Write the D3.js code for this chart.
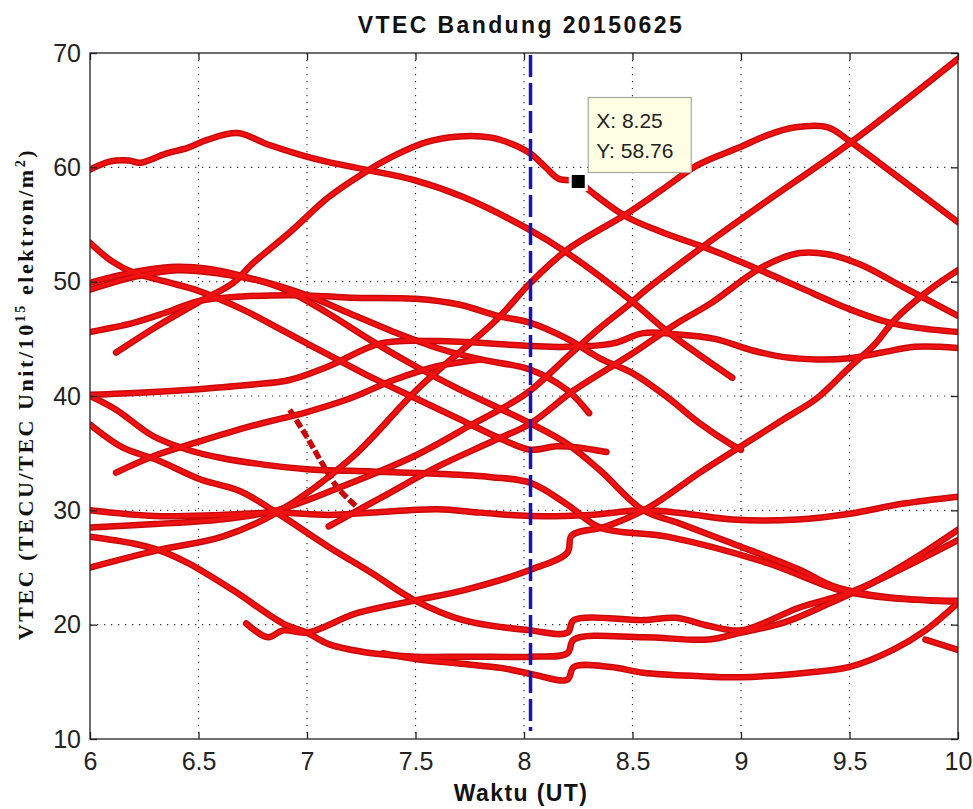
<!DOCTYPE html>
<html>
<head>
<meta charset="utf-8">
<script src="https://cdn.jsdelivr.net/npm/d3@7/dist/d3.min.js"></script>
<style>
  body { margin: 0; background: #fff; }
  svg { display: block; }
</style>
</head>
<body>
<svg id="chart" width="973" height="809"></svg>
<script>
// Axis ticks
const xTicks = [6, 6.5, 7, 7.5, 8, 8.5, 9, 9.5, 10];
const yTicks = [10, 20, 30, 40, 50, 60, 70];

// VTEC tracks per satellite: [time (UT hour), VTEC (TECU)]
const trackA = [[6,59.8],[6.09,60.5],[6.18,60.6],[6.23,60.4],[6.35,61.2],[6.45,61.7],[6.54,62.4],[6.68,63.0],[6.82,62.0],[6.97,61.1],[7.09,60.5],[7.27,59.8],[7.49,58.9],[7.72,57.4],[8.01,54.7],[8.2,52.5],[8.49,48.4],[8.67,45.5],[8.96,41.6]];
const trackB = [[6.12,43.8],[6.3,46.0],[6.49,48.1],[6.66,49.9],[6.75,51.6],[6.92,54.3],[7.1,57.4],[7.27,59.6],[7.4,61.0],[7.55,62.2],[7.7,62.7],[7.85,62.6],[7.95,62.0],[8.03,61.2],[8.1,60.0],[8.16,59.0],[8.25,58.76],[8.3,58.0],[8.47,55.7],[8.64,54.3],[8.86,52.8],[9.09,51.0],[9.27,49.5],[9.5,47.6],[9.65,46.6],[9.8,46.0],[10,45.6]];
const trackC = [[6,28.5],[6.3,28.8],[6.6,29.2],[6.86,30.0],[7.15,32.0],[7.5,34.8],[7.75,37.4],[8.01,40.2],[8.21,43.6],[8.34,45.8],[8.49,48.1],[8.55,49.1],[8.82,53.0],[9.1,56.8],[9.5,62.1],[10,69.5]];
const trackD = [[6,25.0],[6.31,26.5],[6.61,27.7],[6.86,29.8],[7.2,34.5],[7.52,40.8],[7.87,46.6],[8.03,49.9],[8.2,52.8],[8.47,55.9],[8.64,58.1],[8.8,60.2],[9.0,61.8],[9.12,62.8],[9.25,63.5],[9.4,63.5],[9.5,62.3],[9.7,59.5],[10,55.2]];
const trackE = [[6,45.6],[6.2,46.4],[6.35,47.3],[6.5,48.3],[6.7,48.7],[7.0,48.8],[7.2,48.6],[7.5,48.5],[7.7,48.0],[7.88,47.0],[8.03,46.4],[8.2,45.0],[8.35,43.3],[8.5,42.0],[8.66,39.9],[8.81,37.6],[8.96,35.7],[9.0,35.3]];
const trackF = [[6,53.4],[6.1,51.8],[6.2,50.8],[6.35,50.0],[6.5,49.2],[6.7,47.6],[6.9,45.6],[7.1,43.6],[7.3,41.6],[7.5,39.8],[7.7,38.0],[7.9,36.2],[8.03,35.3],[8.15,35.6],[8.25,35.5],[8.38,35.1]];
const trackG = [[6,49.3],[6.2,50.4],[6.4,51.0],[6.6,50.7],[6.8,50.0],[7.0,48.8],[7.2,47.2],[7.4,45.6],[7.6,44.2],[7.8,43.2],[8.03,42.3],[8.2,40.5],[8.3,38.5]];
const trackH = [[6,49.9],[6.1,50.4],[6.25,51.0],[6.4,51.3],[6.55,51.1],[6.7,50.5],[6.9,49.3],[7.1,47.2],[7.3,44.8],[7.5,42.6],[7.7,40.6],[7.9,38.8],[8.03,37.6],[8.2,35.8],[8.35,33.5],[8.55,30.0],[8.71,28.9],[8.96,27.1],[9.27,24.8],[9.42,23.4],[9.6,22.6],[9.8,22.2],[10,22.0]];
const trackI = [[6.72,20.1],[6.82,18.9],[6.89,19.5],[7.0,19.3],[7.23,21.0],[7.52,22.2],[7.72,23.0],[8.03,24.8],[8.2,26.3],[8.22,27.8],[8.38,28.6],[8.58,30.3],[8.81,33.3],[9.0,35.6],[9.2,38.0],[9.35,39.8],[9.5,42.5],[9.62,44.6],[9.71,46.7],[9.87,49.3],[10,51.0]];
const trackJ = [[6,30.0],[6.3,29.5],[6.6,29.6],[6.86,29.8],[7.1,29.6],[7.3,29.8],[7.6,30.1],[7.8,29.8],[8.03,29.5],[8.3,29.6],[8.55,30.0],[8.75,29.7],[8.96,29.2],[9.26,29.2],[9.5,29.7],[9.75,30.6],[10,31.2]];
const trackK = [[6,40.1],[6.25,40.3],[6.5,40.6],[6.75,41.0],[6.92,41.4],[7.1,42.6],[7.34,44.6],[7.6,44.8],[8.01,44.4],[8.2,44.3],[8.41,44.6],[8.55,45.5],[8.7,45.4],[8.88,45.0],[9.05,44.0],[9.2,43.4],[9.35,43.2],[9.5,43.3],[9.65,43.8],[9.8,44.3],[10,44.2]];
const trackL = [[6,40.0],[6.12,38.8],[6.29,36.5],[6.45,35.3],[6.6,34.6],[6.8,34.0],[7.0,33.6],[7.3,33.4],[7.6,33.2],[7.85,32.9],[8.03,32.4],[8.2,30.5],[8.35,28.5],[8.66,27.7],[9.12,25.4],[9.46,23.0],[9.7,22.3],[10,22.1]];
const trackM = [[6,37.5],[6.15,35.5],[6.31,34.4],[6.51,32.7],[6.69,31.7],[6.86,29.8],[7.1,26.8],[7.3,24.5],[7.49,22.2],[7.72,20.4],[8.03,19.5],[8.2,19.3],[8.23,20.4],[8.55,20.4],[8.7,20.6],[8.85,19.9],[9.0,19.5],[9.27,21.5],[9.5,22.8],[9.73,24.8],[10,27.4]];
const trackN = [[6,27.7],[6.2,27.1],[6.32,26.5],[6.45,25.4],[6.66,23.0],[6.89,20.1],[7.0,19.3],[7.1,18.3],[7.3,17.5],[7.5,17.2],[7.75,17.2],[8.03,17.2],[8.2,17.5],[8.23,18.7],[8.55,18.9],[8.85,18.7],[9.0,19.3],[9.2,20.2],[9.4,21.8],[9.6,23.6],[9.8,25.8],[10,28.3]];
const trackO = [[7.35,17.5],[7.5,17.0],[7.7,16.6],[7.9,16.2],[8.03,15.7],[8.2,15.2],[8.23,16.3],[8.4,16.3],[8.55,15.8],[8.8,15.5],[9.0,15.4],[9.3,15.8],[9.5,16.3],[9.7,17.8],[9.85,19.5],[10,21.9]];
const trackP = [[6.12,33.3],[6.3,34.8],[6.5,36.0],[6.75,37.4],[7.0,38.6],[7.2,39.8],[7.4,41.4],[7.6,42.6],[7.8,43.2]];
const trackQ = [[9.85,18.7],[10,17.8]];
const trackR = [[7.1,28.6],[7.35,31.2],[7.6,33.8],[7.85,36.0],[8.03,37.6],[8.23,40.5],[8.49,43.6],[8.7,46.3],[8.86,48.1],[9.1,51.3],[9.27,52.5],[9.4,52.4],[9.55,51.5],[9.75,49.5],[10,47.0]];
// sparse track drawn with gaps
const trackSparse = [[6.92,38.8],[7.0,36.4],[7.07,34.1],[7.14,32.0],[7.23,30.3]];

const tracks = [trackA, trackB, trackC, trackD, trackE, trackF, trackG, trackH,
                trackI, trackJ, trackK, trackL, trackM, trackN, trackO, trackP, trackQ, trackR];

// Cursor line and data tip
const cursorTime = 8.03;
const tipPoint = [8.25, 58.76];
const tipLines = ["X: 8.25", "Y: 58.76"];

const titleText = "VTEC Bandung 20150625";
const xLabelText = "Waktu (UT)";

const svg = d3.select("#chart");
const W = 973, H = 809;
const plot = { left: 90, right: 958, top: 53, bottom: 739 };

const x = d3.scaleLinear().domain([6, 10]).range([plot.left, plot.right]);
const y = d3.scaleLinear().domain([10, 70]).range([plot.bottom, plot.top]);

svg.append("rect").attr("width", W).attr("height", H).attr("fill", "#fff");

// dotted grid
const grid = svg.append("g").attr("stroke", "#333").attr("stroke-width", 1.2)
  .attr("stroke-dasharray", "1.3,5.7");
grid.selectAll("line.vx").data(xTicks.slice(1, -1)).join("line")
  .attr("x1", d => x(d)).attr("x2", d => x(d))
  .attr("y1", plot.top).attr("y2", plot.bottom);
grid.selectAll("line.hy").data(yTicks.slice(1, -1)).join("line")
  .attr("y1", d => y(d)).attr("y2", d => y(d))
  .attr("x1", plot.left).attr("x2", plot.right);

// clip to axes
svg.append("clipPath").attr("id", "clip").append("rect")
  .attr("x", plot.left).attr("y", plot.top)
  .attr("width", plot.right - plot.left).attr("height", plot.bottom - plot.top);

const line = d3.line().x(d => x(d[0])).y(d => y(d[1])).curve(d3.curveCatmullRom.alpha(0.5));

const lines = svg.append("g").attr("clip-path", "url(#clip)")
  .attr("fill", "none").attr("stroke-linecap", "round").attr("stroke-linejoin", "round");

lines.selectAll("path.edge").data(tracks).join("path")
  .attr("class", "edge").attr("d", line)
  .attr("stroke", "#c80808").attr("stroke-width", 6.5);
lines.append("path").datum(trackSparse).attr("d", line)
  .attr("stroke", "#c80808").attr("stroke-width", 5.5).attr("stroke-dasharray", "9,3")
  .attr("stroke-linecap", "butt");
lines.selectAll("path.core").data(tracks).join("path")
  .attr("class", "core").attr("d", line)
  .attr("stroke", "#f01212").attr("stroke-width", 3.6);

// cursor line
svg.append("line")
  .attr("x1", x(cursorTime)).attr("x2", x(cursorTime))
  .attr("y1", plot.top + 2).attr("y2", plot.bottom - 8)
  .attr("stroke", "#1414b0").attr("stroke-width", 3.5)
  .attr("stroke-dasharray", "22,6");

// axes box
svg.append("rect")
  .attr("x", plot.left).attr("y", plot.top)
  .attr("width", plot.right - plot.left).attr("height", plot.bottom - plot.top)
  .attr("fill", "none").attr("stroke", "#222").attr("stroke-width", 1.3);

const tickLen = 7;
const axisFont = "'Liberation Sans', Arial, sans-serif";

const xAxisB = d3.axisBottom(x).tickValues(xTicks).tickSizeInner(-tickLen).tickSizeOuter(0).tickPadding(13)
  .tickFormat(d3.format("~g"));
const xAxisT = d3.axisTop(x).tickValues(xTicks).tickSizeInner(-tickLen).tickSizeOuter(0).tickFormat("");
const yAxisL = d3.axisLeft(y).tickValues(yTicks).tickSizeInner(-tickLen).tickSizeOuter(0).tickPadding(9);
const yAxisR = d3.axisRight(y).tickValues(yTicks).tickSizeInner(-tickLen).tickSizeOuter(0).tickFormat("");

function styleAxis(g) {
  g.select(".domain").remove();
  g.selectAll(".tick line").attr("stroke", "#222").attr("stroke-width", 1.3);
  g.selectAll(".tick text").attr("fill", "#222")
    .style("font-family", axisFont).style("font-size", "25px");
}
svg.append("g").attr("transform", `translate(0,${plot.bottom})`).call(xAxisB).call(styleAxis);
svg.append("g").attr("transform", `translate(0,${plot.top})`).call(xAxisT).call(styleAxis);
svg.append("g").attr("transform", `translate(${plot.left},0)`).call(yAxisL).call(styleAxis);
svg.append("g").attr("transform", `translate(${plot.right},0)`).call(yAxisR).call(styleAxis);

// fit text to a width by letter spacing
function fitSpacing(sel, target) {
  const node = sel.node();
  const len = node.getComputedTextLength();
  const n = node.textContent.length;
  sel.attr("letter-spacing", ((target - len) / Math.max(1, n - 1)).toFixed(2));
}

// title
const title = svg.append("text")
  .attr("x", (plot.left + plot.right) / 2 - 3).attr("y", 33)
  .attr("text-anchor", "middle")
  .style("font-family", axisFont).style("font-weight", "bold").style("font-size", "23px")
  .attr("fill", "#111").text(titleText);
fitSpacing(title, 324);

// x label
const xl = svg.append("text")
  .attr("x", (plot.left + plot.right) / 2 - 3).attr("y", 801)
  .attr("text-anchor", "middle")
  .style("font-family", axisFont).style("font-weight", "bold").style("font-size", "23px")
  .attr("fill", "#111").text(xLabelText);
fitSpacing(xl, 133);

// y label with superscripts
const yl = svg.append("text")
  .attr("transform", "translate(33,394) rotate(-90)")
  .attr("text-anchor", "middle")
  .style("font-family", "'Liberation Serif', 'Times New Roman', serif")
  .style("font-weight", "bold").style("font-size", "22px").attr("fill", "#111");
yl.append("tspan").text("VTEC (TECU/TEC Unit/10");
yl.append("tspan").attr("dy", -8).style("font-size", "14px").text("15");
yl.append("tspan").attr("dy", 8).text(" elektron/m");
yl.append("tspan").attr("dy", -8).style("font-size", "14px").text("2");
yl.append("tspan").attr("dy", 8).text(")");
{
  const len = yl.node().getComputedTextLength();
  const n = yl.node().textContent.length;
  yl.attr("letter-spacing", ((490 - len) / (n - 1)).toFixed(2));
}

// data tip
const mx = x(tipPoint[0]), my = y(tipPoint[1]);
svg.append("rect")
  .attr("x", mx - 8).attr("y", my - 8).attr("width", 16).attr("height", 16)
  .attr("fill", "#000").attr("stroke", "#fff").attr("stroke-width", 3);
const box = svg.append("g").attr("transform", `translate(${mx + 10},${my - 84})`);
box.append("rect").attr("width", 103).attr("height", 75)
  .attr("fill", "#ffffe4").attr("stroke", "#a8a8a0").attr("stroke-width", 1.2);
box.selectAll("text").data(tipLines).join("text")
  .attr("x", 8).attr("y", (d, i) => 30 + i * 30)
  .style("font-family", axisFont).style("font-size", "21px").attr("fill", "#222")
  .text(d => d);
</script>
</body>
</html>
